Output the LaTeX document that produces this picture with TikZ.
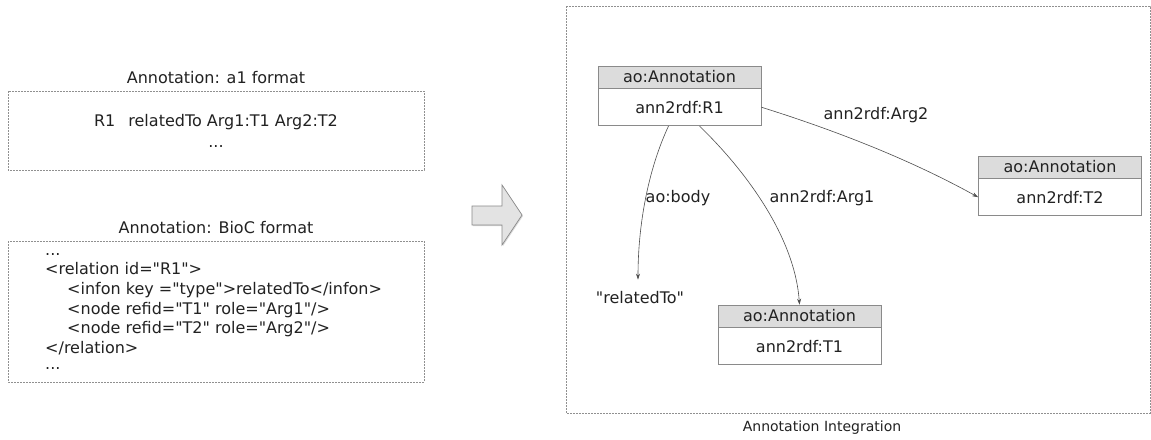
\documentclass[tikz,border=0pt]{standalone}
\usepackage{fontspec}
\setmainfont{DejaVu Sans}[Ligatures=TeXOff]
\usetikzlibrary{arrows.meta,shadows}
\definecolor{boxline}{HTML}{8A8A8A}
\definecolor{hdrfill}{HTML}{DCDCDC}
\definecolor{txt}{HTML}{222222}
\definecolor{dash}{HTML}{909090}
\tikzset{
  every node/.style={text=txt,font=\fontsize{16}{18}\selectfont,inner sep=0pt},
  panel/.style={draw=dash,dashed,dash pattern=on 2pt off 1pt,line width=0.7pt},
  hdr/.style={draw=boxline,fill=hdrfill,minimum width=163pt,minimum height=22pt,line width=0.7pt},
  bdy/.style={draw=boxline,fill=white,minimum width=163pt,minimum height=37pt,line width=0.7pt},
  rel/.style={draw=txt!80,line width=0.6pt,-{Stealth[length=6pt,width=4pt]}},
  lbl/.style={font=\fontsize{16}{18}\selectfont},
  codeline/.style={anchor=base west,font=\fontsize{16}{18}\selectfont},
}
\begin{document}
\begin{tikzpicture}[x=1pt,y=-1pt]
\useasboundingbox (0,0) rectangle (1151,439);
\fill[white] (0,0) rectangle (1151,439);
% left panels
\node (a1title) at (216,78) {Annotation: a1 format};
\draw[panel] (8,91) rectangle (424,170);
\node (a1line) at (216,122) {R1\hspace{13pt}relatedTo Arg1:T1 Arg2:T2};
\node[anchor=base] (a1dots) at (216,147) {...};
\node (biotitle) at (216,228) {Annotation: BioC format};
\draw[panel] (8,241) rectangle (424,382);
\node[codeline] (b1) at (45,255) {...};
\node[codeline] (b2) at (45,274) {<relation id="R1">};
\node[codeline] (b3) at (67,294) {<infon key ="type">relatedTo</infon>};
\node[codeline] (b4) at (67,314) {<node refid="T1" role="Arg1"/>};
\node[codeline] (b5) at (67,333) {<node refid="T2" role="Arg2"/>};
\node[codeline] (b6) at (45,353) {</relation>};
\node[codeline] (b7) at (45,369) {...};
% block arrow
\draw[boxline,line width=0.7pt,fill=hdrfill!80,drop shadow={shadow xshift=1pt,shadow yshift=-1pt,opacity=0.3}]
  (472,206) -- (502,206) -- (502,185) -- (522,215) -- (502,245) -- (502,225) -- (472,225) -- cycle;
% right panel
\draw[panel] (566,6) rectangle (1150,413);
\node[font=\fontsize{14}{16}\selectfont] (intlabel) at (822,428) {Annotation Integration};
% R1
\node[hdr] (r1h) at (679.5,77) {ao:Annotation};
\node[bdy,anchor=north] (r1) at (r1h.south) {ann2rdf:R1};
% T2
\node[hdr] (t2h) at (1060,167) {ao:Annotation};
\node[bdy,anchor=north] (t2) at (t2h.south) {ann2rdf:T2};
% T1
\node[hdr] (t1h) at (799.5,316) {ao:Annotation};
\node[bdy,anchor=north] (t1) at (t1h.south) {ann2rdf:T1};
% literal
\node (lit) at (640,298) {"relatedTo"};
% edges
\draw[rel] ([xshift=-11pt]r1.south) .. controls (648,170) and (638,225) .. ([xshift=-2pt,yshift=12pt]lit.north);
\draw[rel] ([xshift=20pt]r1.south) .. controls (750,175) and (795,240) .. (t1h.north);
\draw[rel] (r1.east) .. controls (850,135) and (920,165) .. (t2.west);
% labels
\node[lbl] (lbody) at (678,198) {ao:body};
\node[lbl] (larg1) at (822,198) {ann2rdf:Arg1};
\node[lbl] (larg2) at (876,115) {ann2rdf:Arg2};
\end{tikzpicture}
\end{document}
